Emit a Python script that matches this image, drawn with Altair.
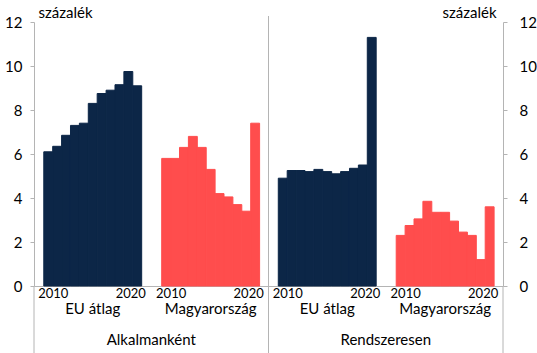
import altair as alt
import pandas as pd

# ---- data ----
years = list(range(2010, 2021))
panels = ["Alkalmanként", "Rendszeresen"]
groups = ["EU átlag", "Magyarország"]
eu_alk = [6.1, 6.35, 6.85, 7.3, 7.4, 8.3, 8.75, 8.9, 9.15, 9.75, 9.1]
hu_alk = [5.8, 5.8, 6.3, 6.8, 6.3, 5.3, 4.2, 4.05, 3.7, 3.4, 7.4]
eu_rend = [4.9, 5.25, 5.25, 5.2, 5.3, 5.2, 5.1, 5.2, 5.35, 5.5, 11.3]
hu_rend = [2.3, 2.75, 3.05, 3.85, 3.35, 3.35, 2.95, 2.45, 2.3, 1.2, 3.6]
series = {
    ("Alkalmanként", "EU átlag"): eu_alk,
    ("Alkalmanként", "Magyarország"): hu_alk,
    ("Rendszeresen", "EU átlag"): eu_rend,
    ("Rendszeresen", "Magyarország"): hu_rend,
}
y_ticks = [0, 2, 4, 6, 8, 10, 12]
unit = "százalék"

# ---- layout (in bar-width units) ----
LEAD, GAP, TAIL = 1.1, 2.25, 1.0
N = len(years)
PANEL_W = LEAD + N + GAP + N + TAIL
TOTAL = 2 * PANEL_W

NAVY = "#0c2647"
RED = "#ff4d4d"
GREY = "#b4b4b4"
FONT = "Lato"

rows, glabels, ylabels, plabels = [], [], [], []
for pi, p in enumerate(panels):
    plabels.append(dict(label=p, x=pi * PANEL_W + PANEL_W / 2))
    for gi, g in enumerate(groups):
        base = pi * PANEL_W + LEAD + gi * (N + GAP)
        for i, (yr, v) in enumerate(zip(years, series[(p, g)])):
            rows.append(dict(panel=p, group=g, year=yr, value=v, zero=0,
                             x0=base + i, x1=base + i + 1))
        glabels.append(dict(label=g, x=base + N / 2))
        ylabels.append(dict(label=str(years[0]), x=base + 0.5, which="first"))
        ylabels.append(dict(label=str(years[-1]), x=base + N - 0.5, which="last"))

df = pd.DataFrame(rows)
gdf = pd.DataFrame(glabels)
ydf = pd.DataFrame(ylabels)
pdf = pd.DataFrame(plabels)
outer = pd.DataFrame({"x": [0, TOTAL]})
mid = pd.DataFrame({"x": [PANEL_W]})

xscale = alt.Scale(domain=[0, TOTAL], nice=False, zero=False)
yscale = alt.Scale(domain=[0, 12], nice=False)


def yaxis(orient, pad, tx, talign):
    return alt.Axis(orient=orient, values=y_ticks, grid=False, tickSize=4,
                    tickColor=GREY, domainColor=GREY, labelPadding=pad,
                    labelFontSize=15, labelColor="black", labelFont=FONT,
                    labelFlush=False, labelBound=False,
                    title=unit, titleAngle=0, titleAlign=talign, titleX=tx,
                    titleY=-5, titleBaseline="alphabetic", titleFontSize=15,
                    titleFontWeight="normal", titleFont=FONT, titleColor="black")


bars = alt.Chart(df).mark_bar(strokeWidth=1).encode(
    x=alt.X("x0:Q", scale=xscale,
            axis=alt.Axis(labels=False, ticks=False, grid=False, domain=True,
                          domainColor=GREY, title=None)),
    x2="x1:Q",
    y=alt.Y("value:Q", scale=yscale, axis=yaxis("left", 8, 4, "left")),
    y2="zero:Q",
    color=alt.Color("group:N", scale=alt.Scale(domain=groups, range=[NAVY, RED]), legend=None),
    stroke=alt.Stroke("group:N", scale=alt.Scale(domain=groups, range=[NAVY, RED]), legend=None),
)

right_axis = alt.Chart(df).mark_point(opacity=0).encode(
    y=alt.Y("value:Q", scale=yscale, axis=yaxis("right", 12, -7, "right")),
)

outer_rules = alt.Chart(outer).mark_rule(color=GREY, strokeWidth=1).encode(
    x=alt.X("x:Q", scale=xscale), y=alt.value(264), y2=alt.value(331))
mid_rule = alt.Chart(mid).mark_rule(color=GREY, strokeWidth=1).encode(
    x=alt.X("x:Q", scale=xscale), y=alt.value(-6), y2=alt.value(331))

first_lbl = alt.Chart(ydf).transform_filter("datum.which == 'first'").mark_text(
    font=FONT, fontSize=13, baseline="middle", dx=5, color="black").encode(
    x=alt.X("x:Q", scale=xscale), y=alt.value(272), text="label:N")
last_lbl = alt.Chart(ydf).transform_filter("datum.which == 'last'").mark_text(
    font=FONT, fontSize=13, baseline="middle", dx=-6.5, color="black").encode(
    x=alt.X("x:Q", scale=xscale), y=alt.value(272), text="label:N")
group_lbl = alt.Chart(gdf).mark_text(font=FONT, fontSize=15, baseline="middle", color="black").encode(
    x=alt.X("x:Q", scale=xscale), y=alt.value(287), text="label:N")
panel_lbl = alt.Chart(pdf).mark_text(font=FONT, fontSize=15, baseline="middle", color="black").encode(
    x=alt.X("x:Q", scale=xscale), y=alt.value(318), text="label:N")

chart = alt.layer(
    bars, right_axis, outer_rules, mid_rule, first_lbl, last_lbl, group_lbl, panel_lbl
).resolve_scale(y="independent").properties(
    width=469, height=264,
    autosize=alt.AutoSizeParams(type="none"),
    padding={"left": 34, "top": 22, "right": 34, "bottom": 67},
).configure_view(stroke=None)

chart.save("out.html", embed_options={"renderer": "svg", "actions": False})
